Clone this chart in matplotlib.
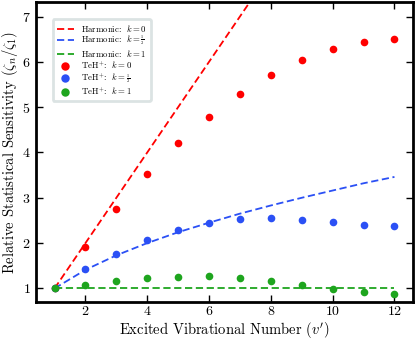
import numpy as np
import matplotlib
matplotlib.use("Agg")
import matplotlib.pyplot as plt

plt.rcParams['font.family'] = 'serif'
plt.rcParams['font.serif'] = ['cmr10']
plt.rcParams['mathtext.fontset'] = 'cm'
plt.rcParams['axes.formatter.use_mathtext'] = True

"""
Data read off the reference
"""
v = [1, 2, 3, 4, 5, 6, 7, 8, 9, 10, 11, 12]

harm_k0 = [1, 2, 3, 4, 5, 6, 7, 8, 9, 10, 11, 12]
harm_khalf = [1.0, 1.41, 1.73, 2.0, 2.24, 2.45, 2.65, 2.83, 3.0, 3.16, 3.32, 3.46]
harm_k1 = [1, 1, 1, 1, 1, 1, 1, 1, 1, 1, 1, 1]

teh_k0 = [1.0, 1.92, 2.76, 3.52, 4.20, 4.79, 5.30, 5.72, 6.05, 6.29, 6.44, 6.50]
teh_khalf = [1.0, 1.43, 1.77, 2.06, 2.29, 2.45, 2.53, 2.55, 2.51, 2.47, 2.41, 2.38]
teh_k1 = [1.0, 1.08, 1.16, 1.22, 1.26, 1.27, 1.23, 1.16, 1.07, 0.98, 0.93, 0.88]

RED = '#ff0000'
BLUE = '#2b50f5'
GREEN = '#1ea51e'

HALF = r'\genfrac{}{}{0.5}{2}{1}{2}'

fig = plt.figure(figsize=(4.15, 3.41), dpi=100)
ax = fig.add_axes([36/415, 39/341, 377/415, 300/341])

ax.plot(v, harm_k0, '--', color=RED, lw=1.3, dashes=(4, 2), label=r'Harmonic:  $k=0$')
ax.plot(v, harm_khalf, '--', color=BLUE, lw=1.3, dashes=(4, 2), label=r'Harmonic:  $k=%s$' % HALF)
ax.plot(v, harm_k1, '--', color=GREEN, lw=1.3, dashes=(4, 2), label=r'Harmonic:  $k=1$')

ax.plot(v, teh_k0, 'o', color=RED, ms=5.5, mec='none', label=r'TeH$^{+}$:  $k=0$')
ax.plot(v, teh_khalf, 'o', color=BLUE, ms=5.5, mec='none', label=r'TeH$^{+}$:  $k=%s$' % HALF)
ax.plot(v, teh_k1, 'o', color=GREEN, ms=5.5, mec='none', label=r'TeH$^{+}$:  $k=1$')

ax.set_xlim(0.4, 12.6)
ax.set_ylim(0.7, 7.32)
ax.set_xticks([2, 4, 6, 8, 10, 12])
ax.set_yticks([1, 2, 3, 4, 5, 6, 7])
ax.tick_params(direction='in', top=True, right=True, length=5, width=1, labelsize=10)
ax.tick_params(axis='x', pad=2.5)
ax.tick_params(axis='y', pad=4)
for s in ax.spines.values():
    s.set_linewidth(2)

ax.set_xlabel(r"Excited Vibrational Number $(v')$", fontsize=10.5, labelpad=1)
ax.set_ylabel(r"Relative Statistical Sensitivity $(\zeta_n/\zeta_1)$", fontsize=10.5, labelpad=1)

leg = ax.legend(loc='upper left', bbox_to_anchor=(0.035, 0.955), numpoints=1, fontsize=6.3,
                frameon=True, fancybox=True, handlelength=2.0, markerscale=1.1,
                borderpad=0.45, labelspacing=0.05, handletextpad=0.8, borderaxespad=0.4)
leg.get_frame().set_edgecolor('#d3dcdc')
leg.get_frame().set_linewidth(2)

plt.savefig('out.png', dpi=100)
